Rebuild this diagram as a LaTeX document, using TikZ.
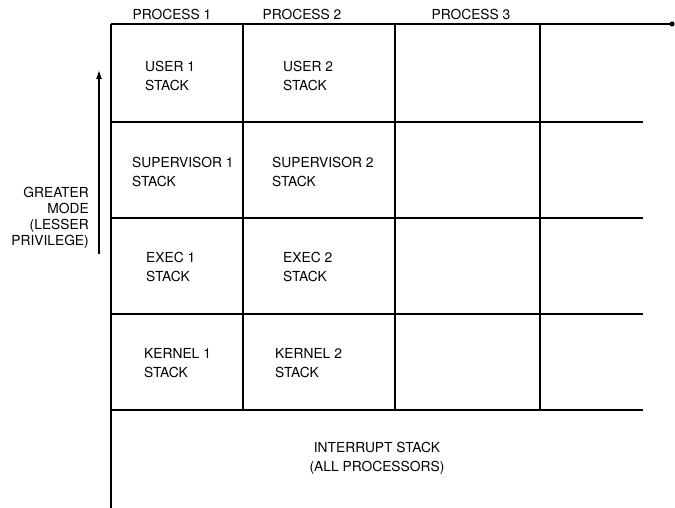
\documentclass[tikz,border=0pt]{standalone}
\usepackage{fontspec}
\setmainfont{TeX Gyre Heros}
\usetikzlibrary{arrows.meta}
\begin{document}
\begin{tikzpicture}[x=1pt,y=-1pt,
  gridline/.style={line width=1.1pt, black},
  celltext/.style={font=\fontsize{13.8}{19}\selectfont, inner sep=0pt, align=left, anchor=west},
  headtext/.style={font=\fontsize{13.8}{19}\selectfont, inner sep=0pt},
  sidetext/.style={font=\fontsize{13.8}{16}\selectfont, inner sep=0pt, align=right, anchor=east},
  bottomtext/.style={font=\fontsize{13.8}{19}\selectfont, inner sep=0pt, align=center}]
\useasboundingbox (0,0) rectangle (675,508);
% grid
\coordinate (tl) at (111,24);
\coordinate (tr) at (672,24);
\coordinate (bl) at (111,508);
\draw[gridline] (tl) -- (tr);
\fill (tr) circle (2.6);
\draw[gridline] (tl) -- (bl);
\foreach \y in {122,218,314,410} \draw[gridline] (111,\y) -- (643,\y);
\foreach \x in {243,395,540} \draw[gridline] (\x,24) -- (\x,410);
% headers
\node[headtext] (p1) at (172,14) {PROCESS 1};
\node[headtext] (p2) at (302,14) {PROCESS 2};
\node[headtext] (p3) at (471,14) {PROCESS 3};
% cells column 1
\node[celltext] (u1) at (145,76) {USER 1\\STACK};
\node[celltext] (s1) at (132,172) {SUPERVISOR 1\\STACK};
\node[celltext] (e1) at (146,267) {EXEC 1\\STACK};
\node[celltext] (k1) at (144,363) {KERNEL 1\\STACK};
% cells column 2
\node[celltext] (u2) at (283,76) {USER 2\\STACK};
\node[celltext] (s2) at (272,172) {SUPERVISOR 2\\STACK};
\node[celltext] (e2) at (283,267) {EXEC 2\\STACK};
\node[celltext] (k2) at (275,363) {KERNEL 2\\STACK};
% interrupt
\node[bottomtext] (irq) at (377,458) {INTERRUPT STACK\\(ALL PROCESSORS)};
% side label and arrow
\node[sidetext] (mode) at (89,218) {GREATER\\MODE\\(LESSER\\PRIVILEGE)};
\coordinate (arrlo) at (99,254);
\coordinate (arrhi) at (99,70);
\draw[line width=1.3pt, -{Latex[length=9pt,width=6pt]}] (arrlo) -- (arrhi);
\end{tikzpicture}
\end{document}
